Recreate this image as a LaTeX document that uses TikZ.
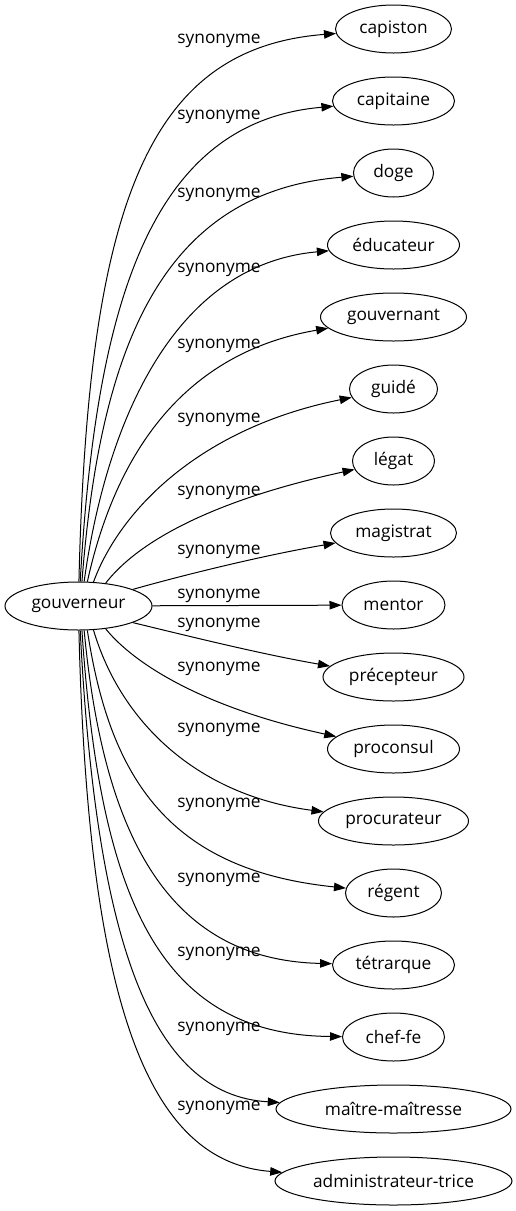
\documentclass[tikz,border=0pt]{standalone}
\usepackage{fontspec}
\setmainfont{Open Sans}
\usetikzlibrary{arrows.meta,shapes.geometric}

\begin{document}
\begin{tikzpicture}[x=1pt,y=-1pt]
\useasboundingbox (0,0) rectangle (515,1211);

\begin{scope}[every node/.style={ellipse,draw,line width=1pt,inner sep=0pt,
              minimum height=48pt,font=\fontsize{17.3pt}{20pt}\selectfont}]
    \node[minimum width=147pt] (gov) at (78.5,606) {gouverneur};
    \node[minimum width=116pt] (capiston) at (393.5,29) {capiston};
    \node[minimum width=122pt] (capitaine) at (393.5,101) {capitaine};
    \node[minimum width=80pt] (doge) at (393.5,173) {doge};
    \node[minimum width=132pt] (educateur) at (393.5,245) {éducateur};
    \node[minimum width=146pt] (gouvernant) at (393.5,317) {gouvernant};
    \node[minimum width=88pt] (guide) at (393.5,389) {guidé};
    \node[minimum width=82pt] (legat) at (393.5,461) {légat};
    \node[minimum width=126pt] (magistrat) at (393.5,533) {magistrat};
    \node[minimum width=103pt] (mentor) at (393.5,605) {mentor};
    \node[minimum width=141pt] (precepteur) at (393.5,677) {précepteur};
    \node[minimum width=132pt] (proconsul) at (393.5,749) {proconsul};
    \node[minimum width=150pt] (procurateur) at (393.5,821) {procurateur};
    \node[minimum width=96pt] (regent) at (393.5,893) {régent};
    \node[minimum width=122pt] (tetrarque) at (393.5,965) {tétrarque};
    \node[minimum width=102pt] (cheffe) at (393.5,1037) {chef-fe};
    \node[minimum width=235pt] (maitre) at (393.5,1109) {maître-maîtresse};
    \node[minimum width=237pt] (admin) at (393.5,1181) {administrateur-trice};
\end{scope}

\begin{scope}[every node/.style={anchor=base,inner sep=0pt,
              font=\fontsize{17.3pt}{20pt}\selectfont}]
    \node (l1) at (219,43) {synonyme};
    \node (l2) at (219,119) {synonyme};
    \node (l3) at (219,197) {synonyme};
    \node (l4) at (219,272) {synonyme};
    \node (l5) at (219,348) {synonyme};
    \node (l6) at (219,422) {synonyme};
    \node (l7) at (219,495) {synonyme};
    \node (l8) at (219,554) {synonyme};
    \node (l9) at (219,598) {synonyme};
    \node (l10) at (219,627) {synonyme};
    \node (l11) at (219,671) {synonyme};
    \node (l12) at (219,732) {synonyme};
    \node (l13) at (219,807) {synonyme};
    \node (l14) at (219,882) {synonyme};
    \node (l15) at (219,956) {synonyme};
    \node (l16) at (219,1031) {synonyme};
    \node (l17) at (219,1110) {synonyme};
\end{scope}

\begin{scope}[>={Triangle[length=12pt,width=8.5pt]}, line width=1pt]
    % upper half
    \draw[->] (gov.89) .. controls (88,200) and (150,48) .. (capiston);
    \draw[->] (gov.86) .. controls (96,300) and (152,122) .. (capitaine);
    \draw[->] (gov.82) .. controls (100,350) and (160,192) .. (doge);
    \draw[->] (gov.77) .. controls (105,430) and (170,265) .. (educateur);
    \draw[->] (gov.70) .. controls (112,470) and (172,355) .. (gouvernant);
    \draw[->] (gov.58) .. controls (120,510) and (200,428) .. (guide);
    \draw[->] (gov.40) .. controls (135,545) and (205,502) .. (legat);
    \draw[->] (gov.17) .. controls (180,576) and (260,556) .. (magistrat);
    \draw[->] (gov) -- (mentor);
    % lower half
    \draw[->] (gov.-17) .. controls (180,634) and (260,654) .. (precepteur);
    \draw[->] (gov.-40) .. controls (135,665) and (205,708) .. (proconsul);
    \draw[->] (gov.-58) .. controls (120,720) and (195,795) .. (procurateur);
    \draw[->] (gov.-70) .. controls (110,780) and (170,870) .. (regent);
    \draw[->] (gov.-77) .. controls (103,830) and (165,960) .. (tetrarque);
    \draw[->] (gov.-82) .. controls (100,900) and (160,1035) .. (cheffe);
    \draw[->] (gov.-86) .. controls (96,940) and (150,1095) .. (maitre);
    \draw[->] (gov.-89) .. controls (88,1010) and (150,1162) .. (admin);
\end{scope}
\end{tikzpicture}
\end{document}
